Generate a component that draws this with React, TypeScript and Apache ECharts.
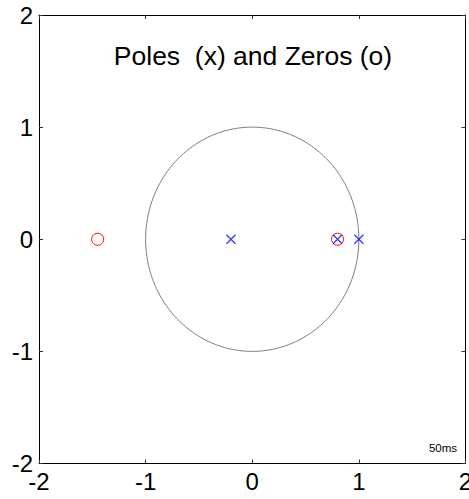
import React, { useEffect, useRef } from "react";
import * as echarts from "echarts";

const AXIS_TICKS = [-2, -1, 0, 1, 2];
const POLES: [number, number][] = [
  [-0.2, 0],
  [0.8, 0],
  [1.0, 0],
];
const ZEROS: [number, number][] = [
  [-1.45, 0],
  [0.8, 0],
];
const UNIT_RADIUS = 1;
const CIRCLE_STEPS = 360;
const TITLE = "Poles  (x) and Zeros (o)";
const NOTE = "50ms";

export default function App() {
  const ref = useRef<HTMLDivElement>(null);
  useEffect(() => {
    if (!ref.current) return;
    const chart = echarts.init(ref.current, undefined, { renderer: "svg" });
    const circle: [number, number][] = [];
    for (let i = 0; i <= CIRCLE_STEPS; i++) {
      const a = (i / CIRCLE_STEPS) * Math.PI * 2;
      circle.push([UNIT_RADIUS * Math.cos(a), UNIT_RADIUS * Math.sin(a)]);
    }
    const font = "Liberation Sans, Arial, sans-serif";
    const labelStyle = { color: "#000", fontSize: 24, fontFamily: font };
    const tick = { show: true, inside: true, length: 4, lineStyle: { color: "#333" } };
    const base = {
      type: "value" as const,
      min: AXIS_TICKS[0],
      max: AXIS_TICKS[AXIS_TICKS.length - 1],
      interval: 1,
      splitLine: { show: false },
      axisLine: { show: true, onZero: false, lineStyle: { color: "#000", width: 1 } },
      axisTick: tick,
    };
    chart.setOption({
      animation: false,
      grid: {
        left: 39,
        top: 15,
        right: 3.5,
        bottom: 35.5,
        containLabel: false,
        outerBoundsMode: "none",
      },
      xAxis: [
        { ...base, position: "bottom", axisLabel: { ...labelStyle, margin: 6 } },
        { ...base, position: "top", axisLabel: { show: false } },
      ],
      yAxis: [
        { ...base, position: "left", axisLabel: { ...labelStyle, margin: 6 } },
        { ...base, position: "right", axisLabel: { show: false } },
      ],
      graphic: [
        {
          type: "text",
          x: 253,
          y: 56,
          style: {
            text: TITLE,
            fontSize: 26.5,
            fontFamily: font,
            fill: "#000",
            textAlign: "center",
            textVerticalAlign: "middle",
          },
        },
        {
          type: "text",
          x: 457,
          y: 448,
          style: {
            text: NOTE,
            fontSize: 11.5,
            fontFamily: font,
            fill: "#000",
            textAlign: "right",
            textVerticalAlign: "middle",
          },
        },
      ],
      series: [
        {
          type: "line",
          data: circle,
          showSymbol: false,
          smooth: false,
          lineStyle: { color: "#7a7a7a", width: 1 },
          silent: true,
        },
        {
          type: "scatter",
          data: ZEROS,
          symbol: "circle",
          symbolSize: 12,
          itemStyle: { color: "none", opacity: 1, borderColor: "#ff0000", borderWidth: 1 },
          z: 3,
        },
        {
          type: "scatter",
          data: POLES,
          symbol: "path://M0,0L10,10M10,0L0,10",
          symbolSize: 9,
          itemStyle: { color: "none", borderColor: "#0000ff", borderWidth: 1.2 },
          z: 4,
        },
      ],
    });
    return () => chart.dispose();
  }, []);
  return <div ref={ref} style={{ width: 469, height: 499, position: "absolute", left: 0, top: 0, background: "#fff" }} />;
}
